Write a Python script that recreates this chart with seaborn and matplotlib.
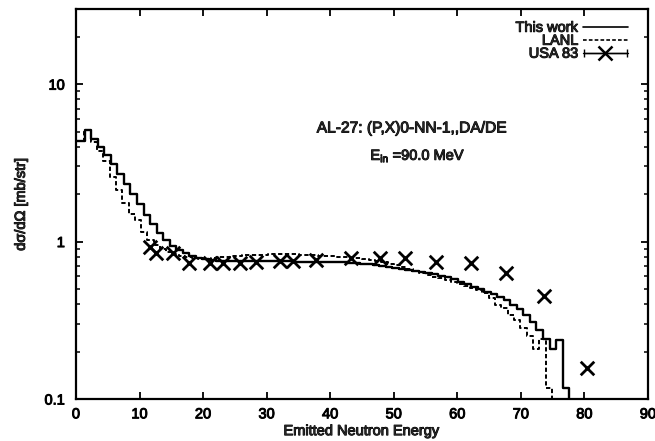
import numpy as np
import pandas as pd
import matplotlib
matplotlib.use("Agg")
import matplotlib.pyplot as plt
import matplotlib.patheffects as pe
import seaborn as sns
from matplotlib.lines import Line2D
from matplotlib.collections import LineCollection
from matplotlib.container import ErrorbarContainer
from matplotlib.legend_handler import HandlerErrorbar
from matplotlib.ticker import LogLocator, NullFormatter, FixedLocator, FuncFormatter

# ---- data -------------------------------------------------------------
# "This work" histogram: bin edges (MeV) and values (mb/str)
this_work_edges = np.concatenate([[0.0], np.linspace(1.35, 77.6, 75)])
this_work = [4.37, 5.10, 4.45, 4.00, 3.55, 3.10, 2.70, 2.33, 2.00, 1.72,
             1.48, 1.29, 1.14, 1.02, 0.94, 0.88, 0.84, 0.81, 0.79, 0.77,
             0.76, 0.752, 0.750, 0.750, 0.750, 0.750, 0.750, 0.750, 0.750, 0.749,
             0.749, 0.748, 0.748, 0.747, 0.747, 0.746, 0.745, 0.744, 0.743, 0.742,
             0.738, 0.734, 0.729, 0.723, 0.716, 0.708, 0.700, 0.692, 0.682, 0.672,
             0.662, 0.652, 0.642, 0.631, 0.620, 0.607, 0.592, 0.575, 0.556, 0.537,
             0.518, 0.498, 0.480, 0.462, 0.445, 0.425, 0.395, 0.371, 0.341, 0.310,
             0.274, 0.240, 0.207, 0.237, 0.117]

# LANL histogram
lanl_edges = np.concatenate([[0.0], np.linspace(1.3, 74.9, 75)])
lanl = [4.37, 5.10, 4.30, 3.76, 3.25, 2.58, 2.12, 1.77, 1.49, 1.37,
        1.15, 1.02, 0.95, 0.90, 0.86, 0.83, 0.81, 0.795, 0.785, 0.780,
        0.780, 0.785, 0.795, 0.802, 0.808, 0.813, 0.818, 0.822, 0.825, 0.827,
        0.829, 0.830, 0.830, 0.830, 0.828, 0.826, 0.823, 0.820, 0.815, 0.810,
        0.806, 0.800, 0.795, 0.788, 0.781, 0.773, 0.765, 0.750, 0.740, 0.725,
        0.710, 0.690, 0.668, 0.648, 0.630, 0.613, 0.598, 0.583, 0.568, 0.553,
        0.538, 0.523, 0.507, 0.490, 0.470, 0.440, 0.395, 0.377, 0.341, 0.317,
        0.281, 0.250, 0.209, 0.240, 0.117]

# USA 83 experimental points
usa83_energy = [11.6, 12.6, 15.3, 17.8, 21.1, 23.1, 25.8, 28.3, 32.1, 34.1,
                37.8, 43.3, 47.9, 51.8, 56.7, 62.1, 67.7, 73.7, 80.4]
usa83_xs = [0.927, 0.840, 0.840, 0.727, 0.733, 0.733, 0.733, 0.744, 0.756, 0.756,
            0.765, 0.782, 0.790, 0.790, 0.744, 0.727, 0.628, 0.453, 0.158]

x_ticks = [0, 10, 20, 30, 40, 50, 60, 70, 80, 90]
y_ticks = [0.1, 1, 10]
y_tick_labels = ["0.1", "1", "10"]

title_text = "AL-27: (P,X)0-NN-1,,DA/DE"
energy_text = r"E$_{\mathrm{in}}$ =90.0 MeV"
x_label = "Emitted Neutron Energy"
y_label = "dσ/dΩ [mb/str]"
FLOOR = 0.01  # value used to draw the final drop below the axis

# ---- style ------------------------------------------------------------
sns.set_theme(style="ticks")
plt.rcParams["font.family"] = ["Liberation Sans", "DejaVu Sans"]
plt.rcParams["mathtext.fontset"] = "custom"
plt.rcParams["mathtext.rm"] = "Liberation Sans"
plt.rcParams["mathtext.it"] = "Liberation Sans:italic"
FS = 10.5
HEAVY = [pe.withStroke(linewidth=0.7, foreground="black")]

fig = plt.figure(figsize=(6.55, 4.41), dpi=100)
ax = fig.add_axes([76 / 655, 42 / 441, (648 - 76) / 655, (399 - 9) / 441])
ax.set_yscale("log")

tw_df = pd.DataFrame({"E": this_work_edges, "xs": list(this_work) + [FLOOR]})
la_df = pd.DataFrame({"E": lanl_edges, "xs": list(lanl) + [FLOOR]})

sns.lineplot(data=tw_df, x="E", y="xs", drawstyle="steps-post", estimator=None,
             sort=False, color="black", lw=1.7, ax=ax)
sns.lineplot(data=la_df, x="E", y="xs", drawstyle="steps-post", estimator=None,
             sort=False, color="black", lw=1.4, linestyle=(0, (2.2, 1.3)), ax=ax)
sns.scatterplot(x=usa83_energy, y=usa83_xs, marker="x", s=95, color="black",
                linewidth=2.0, ax=ax, zorder=5)

ax.set_xlim(0, 90)
ax.set_ylim(0.1, 30)

ax.xaxis.set_major_locator(FixedLocator(x_ticks))
ax.yaxis.set_major_locator(FixedLocator(y_ticks))
ax.yaxis.set_major_formatter(FuncFormatter(
    lambda v, p: y_tick_labels[y_ticks.index(v)] if v in y_ticks else ""))
ax.yaxis.set_minor_locator(LogLocator(base=10, subs=np.arange(2, 10)))
ax.yaxis.set_minor_formatter(NullFormatter())

ax.tick_params(which="both", direction="in", top=True, right=True, colors="black",
               labelsize=FS)
ax.tick_params(which="major", length=5, width=1.3)
ax.tick_params(which="minor", length=3, width=1.1)
ax.tick_params(axis="y", pad=8)
ax.tick_params(axis="x", pad=6)
for s in ax.spines.values():
    s.set_linewidth(1.6)
    s.set_color("black")

ax.set_xlabel(x_label, fontsize=FS, labelpad=2)
ax.set_ylabel(y_label, fontsize=FS, labelpad=12)

ax.text(0.586, 0.695, title_text, transform=ax.transAxes, ha="center", va="center",
        fontsize=11.2)
ax.text(0.598, 0.623, energy_text, transform=ax.transAxes, ha="center", va="center",
        fontsize=FS)

# ---- legend (gnuplot-like: label on left, sample on right) -------------
h_tw = Line2D([], [], color="black", lw=1.2)
h_la = Line2D([], [], color="black", lw=1.2, linestyle=(0, (2.2, 1.3)))
dl = Line2D([], [], color="black", marker="x", markersize=9.5, markeredgewidth=1.8, lw=1.0)
cap = Line2D([], [], color="black", marker="|", markersize=6, lw=1.0)
bars = LineCollection([], colors="black", linewidths=1.0)
h_us = ErrorbarContainer((dl, (cap, cap), (bars,)), has_xerr=True, has_yerr=False)

leg = ax.legend([h_tw, h_la, h_us], ["This work", "LANL", "USA 83"],
                loc="upper right", bbox_to_anchor=(0.983, 0.996), markerfirst=False,
                frameon=False, fontsize=FS, handlelength=3.1, handletextpad=0.3,
                labelspacing=-0.07, borderpad=0.2,
                handler_map={ErrorbarContainer: HandlerErrorbar(xerr_size=1.45)})
for t in leg.get_texts():
    t.set_ha("right")

# heavier text like the scanned original
for t in ([ax.xaxis.label, ax.yaxis.label] + ax.texts + leg.get_texts()
          + ax.get_xticklabels() + ax.get_yticklabels()):
    t.set_path_effects(HEAVY)

fig.savefig("out.png", dpi=100, facecolor="white")
